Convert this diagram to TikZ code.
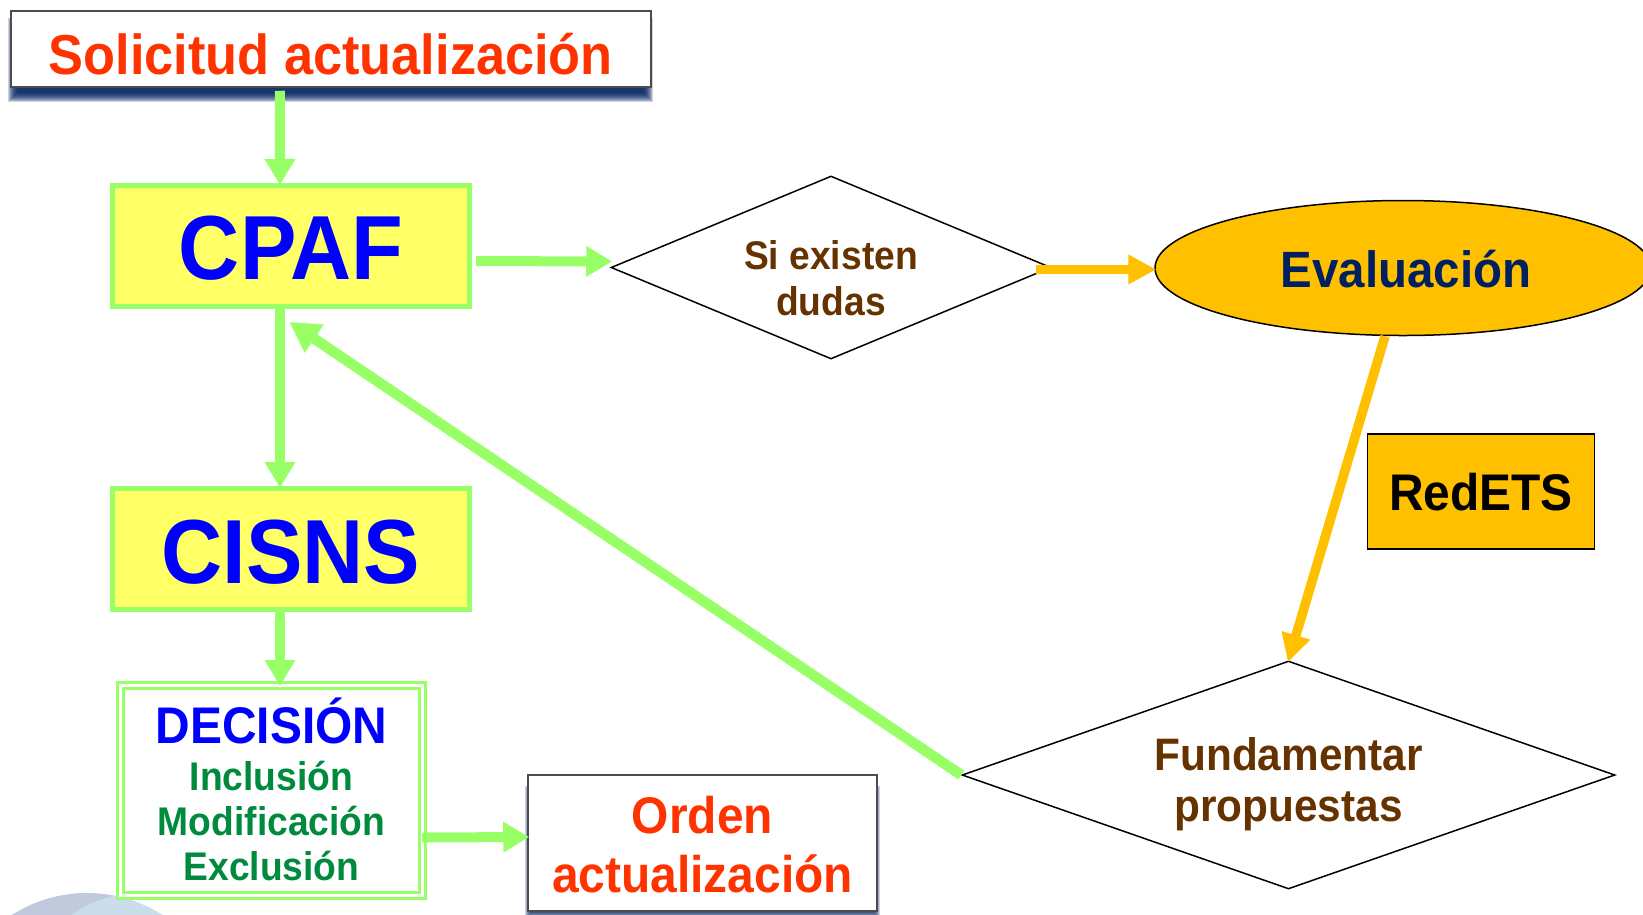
\documentclass[tikz,border=0pt]{standalone}
\usepackage{fontspec}
\setmainfont{Liberation Sans}
\usetikzlibrary{arrows.meta,shapes.geometric}
\definecolor{lgreen}{HTML}{99FF66}
\definecolor{yel}{HTML}{FFFF66}
\definecolor{org}{HTML}{FFC000}
\definecolor{redt}{HTML}{FF3300}
\definecolor{bluet}{HTML}{0000FF}
\definecolor{greent}{HTML}{008A3E}
\definecolor{brownt}{HTML}{663300}
\definecolor{navyt}{HTML}{002060}
\definecolor{discA}{HTML}{C1C9DD}
\definecolor{discB}{HTML}{CBDCEA}
\newcommand{\ft}[2]{\fontsize{#1}{#2}\selectfont\bfseries}
\newcommand{\cond}[1]{\scalebox{.93}[1]{#1}}
\newcommand{\dn}[2]{\raisebox{-#1}[\height][\depth]{\cond{#2}}}
\tikzset{
  x=1pt,y=-1pt,
  gbox/.style={draw=lgreen,line width=5pt,fill=yel,minimum width=357pt,minimum height=121pt,inner sep=0pt,anchor=center,text=bluet,font=\ft{91}{91}},
  wbox/.style={draw=black!70,line width=1.5pt,fill=white,inner sep=0pt,anchor=center,align=center,text=redt},
  dia/.style={diamond,draw=black,line width=1.5pt,fill=white,inner sep=0pt,anchor=center,align=center,text=brownt},
  garrow/.style={draw=lgreen,line width=10pt,shorten >=-2pt,-{Triangle[width=29pt,length=26pt]}},
  oarrow/.style={draw=org,line width=9.5pt,shorten >=-2pt,-{Triangle[width=28pt,length=28pt]}},
  longarrow/.style={draw=lgreen,line width=10.5pt,shorten >=-2pt,-{Triangle[width=32pt,length=30pt]}},
}
\begin{document}
\begin{tikzpicture}
\useasboundingbox (0,0) rectangle (1643,914);
\fill[white] (0,0) rectangle (1643,914);
\begin{scope}
\clip (0,0) rectangle (1643,914);
% decorative discs at the bottom edge
\fill[discA] (87,1032) circle (139);
\begin{scope}
\clip (87,1032) circle (139);
\fill[discB] (145,1022) circle (130);
\end{scope}
% soft shadows
\foreach \i in {9,8,7,6,5,4,3,2,1,0}{
  \fill[navyt,opacity=.2] (17-\i,27-\i) rectangle (644+\i,93+\i);
}
\foreach \i in {6,5,4,3,2,1,0}{
  \fill[navyt,opacity=.2] (531-\i,792-\i) rectangle (874+\i,912+\i);
}
\end{scope}

\node[wbox,minimum width=640pt,minimum height=76pt,font=\ft{56.3}{56.3}] (so) at (330.75,49) {\dn{5.2pt}{Solicitud actualización}};
\node[gbox] (cpaf) at (291,246) {\dn{2pt}{CPAF}};
\node[gbox] (cisns) at (291,549) {\dn{3pt}{CISNS}};
\node[draw=lgreen,line width=3pt,double=white,double distance=3pt,fill=white,minimum width=302pt,minimum height=210pt,inner sep=0pt,anchor=center,align=center,font=\ft{40}{45},text=greent] (dec) at (271.5,790.5)
  {{\color{bluet}\fontsize{51.5}{45}\selectfont\dn{-1pt}{DECISIÓN}}\\[2pt]\dn{-1.5pt}{Inclusión}\\\dn{-1.5pt}{Modificación}\\\dn{-1.5pt}{Exclusión}};
\node[wbox,minimum width=349pt,minimum height=136pt,font=\ft{51.5}{59}] (ord) at (702.5,843) {\dn{2pt}{Orden}\\\dn{2pt}{actualización}};
\node[dia,aspect=2.4,minimum width=440pt,minimum height=183pt,font=\ft{40}{46}] (d1) at (831,267.5) {\dn{10.5pt}{Si existen}\\\dn{10.5pt}{dudas}};
\node[ellipse,draw=black,line width=1.5pt,fill=org,minimum width=496pt,minimum height=135pt,inner sep=0pt,anchor=center,text=navyt,font=\ft{51}{51}] (ev) at (1403,268) {\hspace*{6pt}\dn{1pt}{Evaluación}};
\node[rectangle,draw=black,line width=1.5pt,fill=org,minimum width=227pt,minimum height=115pt,inner sep=0pt,anchor=center,text=black,font=\ft{51.5}{51.5}] (red) at (1481,491.5) {\dn{1pt}{RedETS}};
\node[dia,aspect=2.86,minimum width=653pt,minimum height=228pt,font=\ft{45.5}{51}] (d2) at (1288.5,775) {\dn{9.5pt}{Fundamentar}\\\dn{9.5pt}{propuestas}};

\draw[garrow] ([xshift=-51pt,yshift=-3pt]so.south) -- ([xshift=-11pt]cpaf.north);
\draw[garrow] ([xshift=4pt,yshift=-15pt]cpaf.east) -- ([yshift=6pt]d1.west);
\draw[garrow] ([xshift=-11pt]cpaf.south) -- ([xshift=-11pt]cisns.north);
\draw[garrow] ([xshift=-11pt]cisns.south) -- ([xshift=8.5pt]dec.north);
\draw[garrow] ([xshift=-2pt,yshift=-47pt]dec.east) -- ([yshift=6pt]ord.west);
\draw[longarrow] (d2.west) -- ([yshift=-14pt]cpaf.south);
\draw[oarrow] ([xshift=-16pt,yshift=-2pt]d1.east) -- ([yshift=-1.5pt]ev.west);
\draw[oarrow] ([xshift=-18pt]ev.south) -- (d2.north);
\end{tikzpicture}
\end{document}
